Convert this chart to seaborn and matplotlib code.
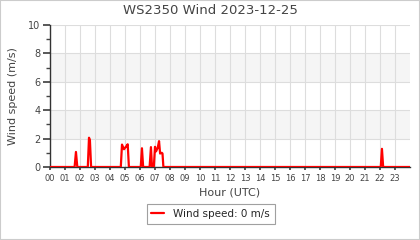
import matplotlib
matplotlib.use("Agg")
import matplotlib.pyplot as plt
import seaborn as sns
import pandas as pd
from matplotlib.patches import Rectangle

# Data (hour of day, UTC) and wind speed (m/s)
hours = [0.0, 1.64, 1.73, 1.82, 2.52, 2.60, 2.66, 2.74,
         4.72, 4.80, 4.93, 5.08, 5.18, 5.26,
         6.05, 6.13, 6.21, 6.64, 6.73, 6.80, 6.92, 7.00, 7.07, 7.18, 7.27,
         7.34, 7.45, 7.50, 7.56,
         22.05, 22.13, 22.21, 24.0]
speeds = [0.0, 0.0, 1.06, 0.0, 0.0, 2.06, 1.9, 0.0,
          0.0, 1.58, 1.25, 1.45, 1.6, 0.0,
          0.0, 1.32, 0.0, 0.0, 1.4, 0.0, 0.0, 1.42, 1.1, 1.35, 1.82,
          0.95, 1.0, 0.95, 0.0,
          0.0, 1.28, 0.0, 0.0]
hour_labels = [f"{h:02d}" for h in range(24)]
title = "WS2350 Wind 2023-12-25"
legend_label = "Wind speed: 0 m/s"

df = pd.DataFrame({"hour": hours, "speed": speeds})

sns.set_theme(style="white")
plt.rcParams['font.family'] = ['DejaVu Sans']

fig = plt.figure(figsize=(4.2, 2.4), dpi=100)
fig.patch.set_facecolor("white")
ax = fig.add_axes([50/420, 1-167/240, 360/420, 142/240])

# alternating bands
for lo, hi in [(2, 4), (6, 8)]:
    ax.axhspan(lo, hi, color="#f5f5f5", zorder=0, lw=0)

sns.lineplot(data=df, x="hour", y="speed", ax=ax, color="#ff0000",
             linewidth=1.6, label=legend_label, zorder=3)

ax.set_xlim(0, 24)
ax.set_ylim(0, 10)
ax.set_xticks(range(24))
ax.set_xticklabels(hour_labels)
ax.set_yticks(range(0, 11, 2))
ax.set_yticks(range(1, 10, 2), minor=True)
ax.grid(True, which="major", color="#dddddd", linewidth=0.8, zorder=1)
ax.set_axisbelow(True)

for s in ["top", "right"]:
    ax.spines[s].set_visible(False)
for s in ["left", "bottom"]:
    ax.spines[s].set_color("#333333")
    ax.spines[s].set_linewidth(1.0)

ax.tick_params(axis="x", labelsize=6, colors="#444444", length=2,
               pad=3, bottom=True, direction="out")
ax.tick_params(axis="y", which="major", labelsize=7, colors="#444444",
               length=5, left=True, pad=2, direction="out")
ax.tick_params(axis="y", which="minor", length=3, left=True, color="#444444")

ax.set_xlabel("Hour (UTC)", fontsize=8, color="#444444", labelpad=3)
ax.set_ylabel("Wind speed (m/s)", fontsize=8, color="#444444", labelpad=7)
fig.text(0.5, 1-11/240, title, fontsize=9.5, color="#444444",
         ha="center", va="center")

leg = ax.legend(loc="center", bbox_to_anchor=(210.5/420, 1-214/240),
                bbox_transform=fig.transFigure, fontsize=7.5, frameon=True,
                fancybox=False, edgecolor="#888888", handlelength=1.2,
                handletextpad=0.9, borderpad=0.45)
leg.get_frame().set_linewidth(0.8)

fig.add_artist(Rectangle((0, 0), 1, 1, transform=fig.transFigure,
                         fill=False, edgecolor="#cccccc", linewidth=1.5))

fig.savefig("out.png", dpi=100)
